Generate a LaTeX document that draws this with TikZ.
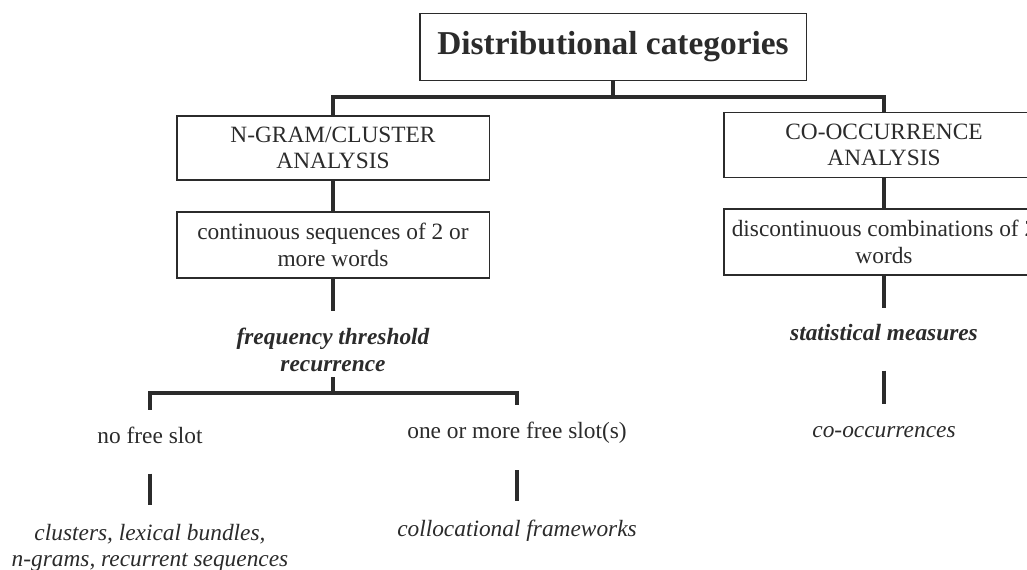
\documentclass[tikz,border=0pt]{standalone}
\usepackage{fontspec}
\setmainfont{Liberation Serif}
\usepackage{xcolor}
\usepackage{tikz}

\definecolor{ink}{HTML}{2B2B2B}
\tikzset{
  catbox/.style={draw=ink, line width=1.1pt, align=center, text=ink, inner sep=2pt},
  leaf/.style={text=ink, inner sep=0pt, align=center},
  measure/.style={leaf, font=\fontsize{13.3}{15}\selectfont\bfseries\itshape},
  result/.style={leaf, font=\fontsize{13.3}{15}\selectfont\itshape},
  branch/.style={draw=ink, line width=2.3pt},
}

\begin{document}
\begin{tikzpicture}[x=0.02cm, y=-0.02cm, font=\fontsize{13.3}{15}\selectfont]
  \useasboundingbox (0,0) rectangle (1027,570);

  % boxes
  \node[catbox, minimum width=7.74cm, minimum height=1.34cm,
        font=\fontsize{19}{22}\selectfont\bfseries] (title) at (613,47) {Distributional categories};
  \node[catbox, minimum width=6.26cm, minimum height=1.28cm] (ngram) at (333,148) {N-GRAM/CLUSTER\\ANALYSIS};
  \node[catbox, minimum width=6.26cm, minimum height=1.32cm] (contseq) at (333,245) {continuous sequences of 2 or\\more words};
  \node[catbox, minimum width=6.4cm, minimum height=1.3cm] (cooc) at (884,145) {CO-OCCURRENCE\\ANALYSIS};
  \node[catbox, minimum width=6.4cm, minimum height=1.32cm] (discont) at (884,242) {discontinuous combinations of 2\\words};

  % lower labels
  \node[measure] (freq) at (333,350) {frequency threshold\\recurrence};
  \node[leaf] (noslot) at (150,435) {no free slot};
  \node[leaf] (freeslot) at (517,433) {one or more free slot(s)};
  \node[result] (clusters) at (150,548) {clusters, lexical bundles,\\n-grams, recurrent sequences};
  \node[result] (colloc) at (517,531) {collocational frameworks};
  \node[measure] (stat) at (884,333) {statistical measures};
  \node[result] (cooccur) at (884,432) {co-occurrences};

  % connectors
  \coordinate (toplevel) at (0,97);
  \coordinate (fork) at (333,393);
  \draw[branch] (title.south) -- (title.south |- toplevel);
  \draw[branch] (ngram.north) |- (title.south |- toplevel) -| (cooc.north);
  \draw[branch] (ngram) -- (contseq);
  \draw[branch] (cooc) -- (discont);
  \draw[branch, shorten >=9.5pt] (contseq) -- (freq);
  \draw[branch, shorten <=3pt] (freq) -- (fork);
  \draw[branch, shorten <=9.5pt, shorten >=9.5pt] (noslot) |- (fork) -| (freeslot);
  \draw[branch, shorten <=17pt, shorten >=11pt] (noslot) -- (clusters);
  \draw[branch, shorten <=15pt, shorten >=11pt] (freeslot) -- (colloc);
  \draw[branch, shorten >=9.5pt] (discont) -- (stat);
  \draw[branch, shorten <=16.5pt, shorten >=12.5pt] (stat) -- (cooccur);
\end{tikzpicture}
\end{document}
